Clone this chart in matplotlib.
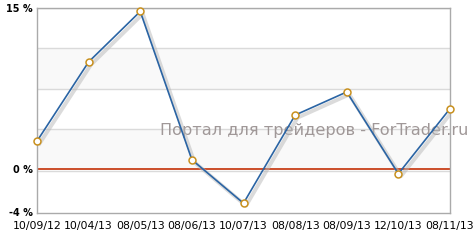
import matplotlib
matplotlib.use("Agg")
import matplotlib.pyplot as plt
import matplotlib.patheffects as pe

dates = ['10/09/12', '10/04/13', '08/05/13', '08/06/13', '10/07/13',
         '08/08/13', '08/09/13', '12/10/13', '08/11/13']
values = [2.63, 9.99, 14.68, 0.9, -3.14, 5.05, 7.2, -0.4, 5.65]
ytick_vals = [-4, 0, 15]
ytick_labels = ['-4 %', '0 %', '15 %']

fig = plt.figure(figsize=(4.76, 2.42), dpi=100)
ax = fig.add_axes([37 / 476, 1 - 212.5 / 242, 413 / 476, 204.5 / 242])
x = list(range(len(values)))

ax.set_xlim(0, len(values) - 1)
ax.set_ylim(-4, 15)

# alternating bands and grid lines
step = 15 / 4
for i in range(4):
    lo, hi = i * step, (i + 1) * step
    if i % 2 == 0:
        ax.axhspan(lo, hi, color='#f9f9f9', zorder=0, lw=0)
    ax.axhline(hi, color='#dadada', lw=1, zorder=1)
ax.axhline(-0.18, color='#dadada', lw=1, zorder=1)
ax.axhline(0, color='#c8401a', lw=1.3, zorder=2)

ax.text(0.672, 0.40, 'Портал для трейдеров - ForTrader.ru', transform=ax.transAxes,
        ha='center', va='center', fontsize=11.6, color='#a09898', zorder=3, clip_on=False)

ax.plot(x, values, color='#2a64a4', lw=1.2, zorder=4,
        path_effects=[pe.SimpleLineShadow(offset=(1.8, -1.8), shadow_color='#b8b8b8', alpha=0.5, linewidth=2.8),
                      pe.Normal()])
ax.plot(x, values, 'o', ms=5, mfc='white', mec='#c8901e', mew=1.1, zorder=5, clip_on=False)

ax.set_xticks(x)
ax.set_xticklabels(dates, fontsize=7.8)
ax.set_yticks(ytick_vals)
ax.set_yticklabels(ytick_labels, fontsize=7, fontweight='bold')
ax.tick_params(axis='x', length=0, pad=6)
ax.tick_params(axis='y', length=0, pad=3)
for s in ax.spines.values():
    s.set_color('#aaaaaa')
    s.set_linewidth(1)

fig.savefig('out.png', dpi=100)
